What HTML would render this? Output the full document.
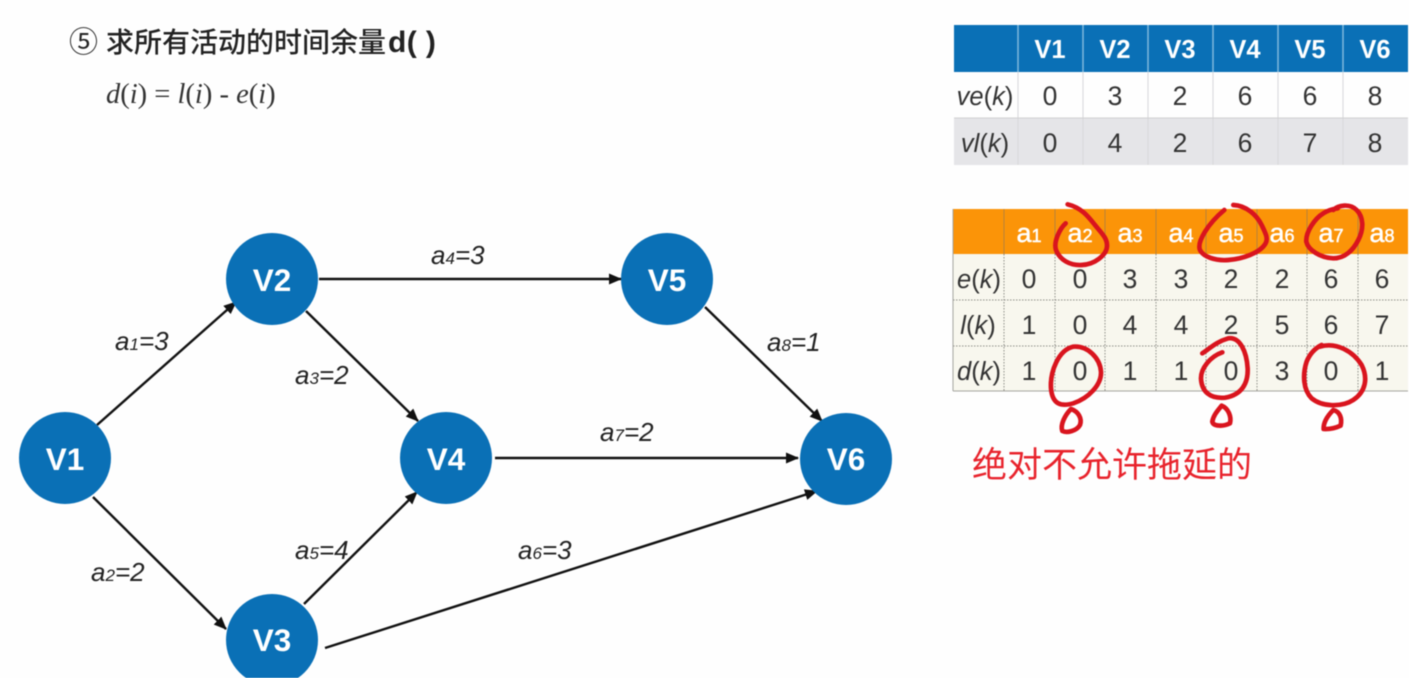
<!DOCTYPE html>
<html><head><meta charset="utf-8"><style>
html,body{margin:0;padding:0;background:#fefefe;width:1409px;height:678px;overflow:hidden}
svg{display:block;filter:blur(.4px)}
.cj{font-family:"Liberation Sans","Noto Sans CJK SC",sans-serif}
.n{font-family:"Liberation Sans",sans-serif;font-weight:bold;font-size:31.5px;fill:#fff;text-anchor:middle}
.l{font-family:"Liberation Sans",sans-serif;font-style:italic;font-size:26px;fill:#222}
.l tspan{font-size:17px}
.e{stroke:#111;stroke-width:2.4;fill:none;marker-end:url(#ah)}
.h1{font-family:"Liberation Sans",sans-serif;font-weight:bold;font-size:25.5px;fill:#fff;text-anchor:middle}
.c{font-family:"Liberation Sans",sans-serif;font-size:26.5px;fill:#333;text-anchor:middle}
.i{font-family:"Liberation Sans",sans-serif;font-size:25.5px;fill:#333;text-anchor:middle}
.i tspan{font-style:italic}
.h2{font-family:"Liberation Sans",sans-serif;font-size:27px;fill:#fff;stroke:#fff;stroke-width:.5;text-anchor:middle}
.h2 tspan{font-size:18px}
.r{fill:none;stroke:#d9141e;stroke-width:14;stroke-linecap:round;stroke-linejoin:round}
</style></head><body>
<svg width="1409" height="678" viewBox="0 0 1409 678" xmlns="http://www.w3.org/2000/svg">
<defs><marker id="ah" markerUnits="userSpaceOnUse" markerWidth="14" markerHeight="12" refX="12" refY="5.5" orient="auto"><path d="M0 0L13 5.5L0 11Z" fill="#111"/></marker></defs>

<text x="69" y="52" class="cj" font-size="29" fill="#222">⑤</text>
<text x="106" y="52" class="cj" font-size="28" font-weight="500" fill="#222">求所有活动的时间余量</text>
<text x="388" y="52" font-family="Liberation Sans,sans-serif" font-weight="bold" font-size="30" letter-spacing=".4" fill="#222">d( )</text>
<text x="106" y="103" font-family="Liberation Serif,serif" font-size="28.5" fill="#333"><tspan font-style="italic">d</tspan>(<tspan font-style="italic">i</tspan>) = <tspan font-style="italic">l</tspan>(<tspan font-style="italic">i</tspan>) - <tspan font-style="italic">e</tspan>(<tspan font-style="italic">i</tspan>)</text>

<line class="e" x1="97" y1="425" x2="236" y2="302"/>
<line class="e" x1="93" y1="497" x2="226" y2="629"/>
<line class="e" x1="319" y1="279" x2="621" y2="279"/>
<line class="e" x1="306" y1="311" x2="418" y2="421"/>
<line class="e" x1="304" y1="604" x2="417" y2="492"/>
<line class="e" x1="325" y1="648" x2="817" y2="491"/>
<line class="e" x1="495" y1="458" x2="798" y2="458"/>
<line class="e" x1="705" y1="307" x2="822" y2="421"/>

<g fill="#0a70b6">
<circle cx="65" cy="458" r="46"/><circle cx="272" cy="279" r="46"/><circle cx="272" cy="640" r="46"/>
<circle cx="446" cy="458" r="46"/><circle cx="667" cy="279" r="46"/><circle cx="846" cy="459" r="46"/>
</g>
<text class="n" x="65" y="470">V1</text><text class="n" x="272" y="291">V2</text><text class="n" x="272" y="651">V3</text>
<text class="n" x="446" y="470">V4</text><text class="n" x="667" y="291">V5</text><text class="n" x="846" y="470">V6</text>

<text class="l" x="115" y="350">a<tspan>1</tspan>=3</text>
<text class="l" x="91" y="581">a<tspan>2</tspan>=2</text>
<text class="l" x="295" y="384">a<tspan>3</tspan>=2</text>
<text class="l" x="431" y="264">a<tspan>4</tspan>=3</text>
<text class="l" x="295" y="559">a<tspan>5</tspan>=4</text>
<text class="l" x="518" y="559">a<tspan>6</tspan>=3</text>
<text class="l" x="600" y="441">a<tspan>7</tspan>=2</text>
<text class="l" x="767" y="351">a<tspan>8</tspan>=1</text>

<!-- table 1 -->
<rect x="954" y="25" width="454" height="47" fill="#0a70b6"/>
<rect x="954" y="72" width="454" height="46" fill="#fefefe"/>
<rect x="954" y="118" width="454" height="47" fill="#e5e5e8"/>
<path d="M1018 25V72M1083 25V72M1148 25V72M1213 25V72M1278 25V72M1343 25V72" stroke="#7fb8dd" stroke-width="1.5"/>
<path d="M1018 72V165M1083 72V165M1148 72V165M1213 72V165M1278 72V165M1343 72V165" stroke="#d8d8da" stroke-width="1"/>
<path d="M954 118H1408" stroke="#d0d0d2"/>
<text class="h1" x="1050" y="58">V1</text><text class="h1" x="1115" y="58">V2</text><text class="h1" x="1180" y="58">V3</text><text class="h1" x="1245" y="58">V4</text><text class="h1" x="1310" y="58">V5</text><text class="h1" x="1375" y="58">V6</text>
<text class="i" x="985" y="105"><tspan>ve</tspan>(<tspan>k</tspan>)</text>
<text class="c" x="1050" y="105">0</text><text class="c" x="1115" y="105">3</text><text class="c" x="1180" y="105">2</text><text class="c" x="1245" y="105">6</text><text class="c" x="1310" y="105">6</text><text class="c" x="1375" y="105">8</text>
<text class="i" x="985" y="152"><tspan>vl</tspan>(<tspan>k</tspan>)</text>
<text class="c" x="1050" y="152">0</text><text class="c" x="1115" y="152">4</text><text class="c" x="1180" y="152">2</text><text class="c" x="1245" y="152">6</text><text class="c" x="1310" y="152">7</text><text class="c" x="1375" y="152">8</text>

<!-- table 2 -->
<rect x="953" y="209" width="455" height="45" fill="#fb9408"/>
<rect x="953" y="254" width="455" height="137" fill="#f8f7ee"/>
<path d="M1004 209V254M1055 209V254M1105 209V254M1156 209V254M1206 209V254M1257 209V254M1307 209V254M1358 209V254" stroke="#b9833a" stroke-width="1"/>
<path d="M1004 254V391M1055 254V391M1105 254V391M1156 254V391M1206 254V391M1257 254V391M1307 254V391M1358 254V391M953 300H1408M953 346H1408" stroke="#8d8d88" stroke-width="1" stroke-dasharray="1.5 1.5" fill="none"/>
<path d="M953 391H1408M953 209V391" stroke="#a5a5a0" stroke-width="1" fill="none"/>
<text class="h2" x="1029" y="242">a<tspan>1</tspan></text><text class="h2" x="1080" y="242">a<tspan>2</tspan></text><text class="h2" x="1130" y="242">a<tspan>3</tspan></text><text class="h2" x="1181" y="242">a<tspan>4</tspan></text><text class="h2" x="1231" y="242">a<tspan>5</tspan></text><text class="h2" x="1282" y="242">a<tspan>6</tspan></text><text class="h2" x="1331" y="242">a<tspan>7</tspan></text><text class="h2" x="1382" y="242">a<tspan>8</tspan></text>
<text class="i" x="979" y="288"><tspan>e</tspan>(<tspan>k</tspan>)</text>
<text class="c" x="1029" y="288">0</text><text class="c" x="1080" y="288">0</text><text class="c" x="1130" y="288">3</text><text class="c" x="1181" y="288">3</text><text class="c" x="1231" y="288">2</text><text class="c" x="1282" y="288">2</text><text class="c" x="1331" y="288">6</text><text class="c" x="1382" y="288">6</text>
<text class="i" x="978" y="334"><tspan>l</tspan>(<tspan>k</tspan>)</text>
<text class="c" x="1029" y="334">1</text><text class="c" x="1080" y="334">0</text><text class="c" x="1130" y="334">4</text><text class="c" x="1181" y="334">4</text><text class="c" x="1231" y="334">2</text><text class="c" x="1282" y="334">5</text><text class="c" x="1331" y="334">6</text><text class="c" x="1382" y="334">7</text>
<text class="i" x="979" y="380"><tspan>d</tspan>(<tspan>k</tspan>)</text>
<text class="c" x="1029" y="380">1</text><text class="c" x="1080" y="380">0</text><text class="c" x="1130" y="380">1</text><text class="c" x="1181" y="380">1</text><text class="c" x="1231" y="380">0</text><text class="c" x="1282" y="380">3</text><text class="c" x="1331" y="380">0</text><text class="c" x="1382" y="380">1</text>

<!-- red annotations -->
<g transform="translate(945,195) scale(.3333)">
<path class="r" d="M368 28C410 38 430 65 450 90C470 115 488 130 486 155C484 180 450 208 410 210C375 212 345 195 333 165C325 140 345 100 362 85"/>
<path class="r" d="M865 30C905 32 935 60 950 90C962 115 970 130 962 145C945 175 890 192 850 195C810 198 775 185 765 165C755 140 790 85 838 45"/>
<path class="r" d="M1165 45C1180 30 1215 25 1235 45C1255 65 1258 100 1240 135C1225 165 1200 190 1165 190C1125 188 1090 165 1084 140C1082 110 1110 70 1135 55C1150 45 1165 42 1178 40"/>
<path class="r" d="M385 455C430 452 465 490 468 530C470 570 430 610 385 625C350 635 322 630 318 580C315 530 340 465 385 455Z"/>
<path class="r" d="M378 642C400 650 412 670 405 690C395 708 365 715 352 708C345 690 360 660 378 642Z"/>
<path class="r" d="M772 475C795 460 815 440 850 430C885 425 905 470 908 520C910 565 890 600 840 608C795 612 770 590 768 550C768 520 795 485 832 472"/>
<path class="r" d="M830 632C850 640 860 665 855 685C835 695 805 695 802 680C805 660 820 645 830 632Z"/>
<path class="r" d="M1125 455C1175 440 1225 470 1250 510C1270 550 1262 590 1225 615C1190 638 1130 635 1100 610C1075 585 1072 540 1085 500C1095 475 1110 460 1130 450"/>
<path class="r" d="M1165 645C1185 650 1192 670 1187 692C1170 700 1150 703 1136 702C1135 680 1150 660 1165 645Z"/>
</g>
<text x="972" y="477" font-family="Liberation Sans,Noto Sans CJK SC,sans-serif" font-size="35" fill="#e8232c">绝对不允许拖延的</text>
</svg>
</body></html>
